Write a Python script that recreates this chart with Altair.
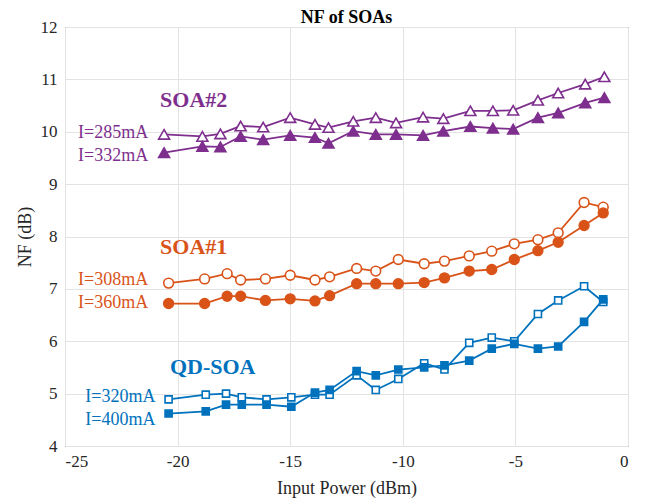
import altair as alt
import pandas as pd

# ---- data ----
x_soa2 = [-20.6, -18.9, -18.1, -17.2, -16.2, -15.0, -13.9, -13.3, -12.2, -11.2,
          -10.3, -9.1, -8.2, -7.0, -6.0, -5.1, -4.0, -3.1, -1.9, -1.05]
soa2_285 = [9.95, 9.91, 9.96, 10.11, 10.09, 10.27, 10.14, 10.08, 10.2, 10.27,
            10.17, 10.28, 10.25, 10.4, 10.4, 10.41, 10.6, 10.74, 10.91, 11.05]
soa2_332 = [9.6, 9.72, 9.71, 9.91, 9.85, 9.93, 9.89, 9.78, 10.01, 9.95,
            9.95, 9.93, 10.01, 10.1, 10.07, 10.05, 10.27, 10.36, 10.55, 10.65]

x_soa1 = [-20.4, -18.8, -17.8, -17.2, -16.1, -15.0, -13.9, -13.25, -12.05, -11.2,
          -10.2, -9.05, -8.15, -7.05, -6.05, -5.05, -4.0, -3.1, -1.95, -1.1]
soa1_308 = [7.11, 7.19, 7.29, 7.17, 7.19, 7.26, 7.17, 7.23, 7.39, 7.34,
            7.56, 7.48, 7.53, 7.63, 7.72, 7.86, 7.94, 8.07, 8.65, 8.56]
soa1_360 = [6.72, 6.72, 6.86, 6.86, 6.78, 6.81, 6.77, 6.87, 7.1, 7.1,
            7.1, 7.12, 7.21, 7.34, 7.37, 7.56, 7.73, 7.89, 8.21, 8.45]

x_qd = [-20.4, -18.75, -17.85, -17.15, -16.05, -14.95, -13.9, -13.25, -12.05, -11.2,
        -10.2, -9.05, -8.15, -7.05, -6.05, -5.05, -4.0, -3.1, -1.95, -1.1]
qd_320 = [4.89, 4.98, 5.0, 4.93, 4.89, 4.93, 4.98, 4.98, 5.35, 5.07,
          5.28, 5.58, 5.46, 5.97, 6.07, 6.0, 6.52, 6.78, 7.05, 6.75]
qd_400 = [4.62, 4.66, 4.79, 4.79, 4.79, 4.75, 5.02, 5.07, 5.43, 5.35,
          5.46, 5.5, 5.54, 5.63, 5.86, 5.95, 5.86, 5.9, 6.37, 6.8]

PURPLE = "#7E2F8E"
ORANGE = "#D95319"
BLUE = "#0072BD"

# annotations: text, x, y, color, bold
ann_text = ["SOA#2", "I=285mA", "I=332mA", "SOA#1", "I=308mA", "I=360mA",
            "QD-SOA", "I=320mA", "I=400mA"]
ann_x = [-20.78, -24.42, -24.42, -20.78, -24.42, -24.42, -20.34, -24.1, -24.1]
ann_y = [10.61, 9.97, 9.53, 7.80, 7.16, 6.73, 5.50, 4.93, 4.50]
ann_color = [PURPLE, PURPLE, PURPLE, ORANGE, ORANGE, ORANGE, BLUE, BLUE, BLUE]
ann_bold = [True, False, False, True, False, False, True, False, False]

FONT = "Liberation Serif"
W, H = 563, 419

xscale = alt.Scale(domain=[-25, 0], nice=False, zero=False)
yscale = alt.Scale(domain=[4, 12], nice=False, zero=False)

xaxis = alt.Axis(values=[-25, -20, -15, -10, -5, 0], labelExpr="'' + datum.value",
                 title="Input Power (dBm)", grid=True, ticks=False,
                 labelFont=FONT, titleFont=FONT, labelFontSize=17, titleFontSize=18,
                 labelPadding=7, titleX=W / 2, titleY=42, titleBaseline="middle",
                 titleAlign="center")
yaxis = alt.Axis(values=[4, 5, 6, 7, 8, 9, 10, 11, 12], title="NF (dB)", grid=True,
                 labelFont=FONT, titleFont=FONT, labelFontSize=17, titleFontSize=18,
                 ticks=False, labelPadding=8, titleX=-40, titleY=H / 2,
                 titleBaseline="middle", titleAlign="center", titleAngle=270)


def series(xs, ys, color, shape, filled, size):
    df = pd.DataFrame({"x": xs, "y": ys})
    base = alt.Chart(df)
    line = base.mark_line(color=color, strokeWidth=1.8).encode(
        x=alt.X("x:Q", scale=xscale, axis=xaxis),
        y=alt.Y("y:Q", scale=yscale, axis=yaxis),
    )
    pt = base.mark_point(
        shape=shape, filled=True, size=size,
        fill=color if filled else "white",
        stroke=color, strokeWidth=1.6, opacity=1,
    ).encode(x=alt.X("x:Q", scale=xscale), y=alt.Y("y:Q", scale=yscale))
    return [line, pt]


layers = []
layers += series(x_soa2, soa2_285, PURPLE, "triangle-up", False, 120)
layers += series(x_soa2, soa2_332, PURPLE, "triangle-up", True, 120)
layers += series(x_soa1, soa1_308, ORANGE, "circle", False, 95)
layers += series(x_soa1, soa1_360, ORANGE, "circle", True, 95)
layers += series(x_qd, qd_320, BLUE, "square", False, 50)
layers += series(x_qd, qd_400, BLUE, "square", True, 50)

ann = pd.DataFrame({"t": ann_text, "x": ann_x, "y": ann_y, "c": ann_color, "b": ann_bold})
normal = alt.Chart(ann[~ann["b"]]).mark_text(
    align="left", baseline="middle", font=FONT, fontSize=18
).encode(x=alt.X("x:Q", scale=xscale), y=alt.Y("y:Q", scale=yscale),
         text="t:N", color=alt.Color("c:N", scale=None))
bold = alt.Chart(ann[ann["b"]]).mark_text(
    align="left", baseline="middle", font=FONT, fontSize=22, fontWeight="bold"
).encode(x=alt.X("x:Q", scale=xscale), y=alt.Y("y:Q", scale=yscale),
         text="t:N", color=alt.Color("c:N", scale=None))
layers += [normal, bold]

chart = alt.layer(*layers).properties(
    width=W, height=H,
    title=alt.TitleParams("NF of SOAs", font=FONT, fontSize=18, fontWeight="bold",
                          color="#000000", anchor="middle", offset=4, dy=13,
                          frame="group"),
    autosize=alt.AutoSizeParams(type="none"),
    padding={"left": 65, "top": 27, "right": 19, "bottom": 53},
).configure(background="white").configure_view(
    stroke="#6b6b6b", strokeWidth=1
).configure_axis(
    labelFont=FONT, titleFont=FONT, labelFontSize=17, titleFontSize=18,
    labelColor="#262626", titleColor="#262626", gridColor="#e3e3e3",
    gridWidth=1, domain=False, titleFontWeight="normal"
)

chart.save("out.html", embed_options={"renderer": "svg", "actions": False})
